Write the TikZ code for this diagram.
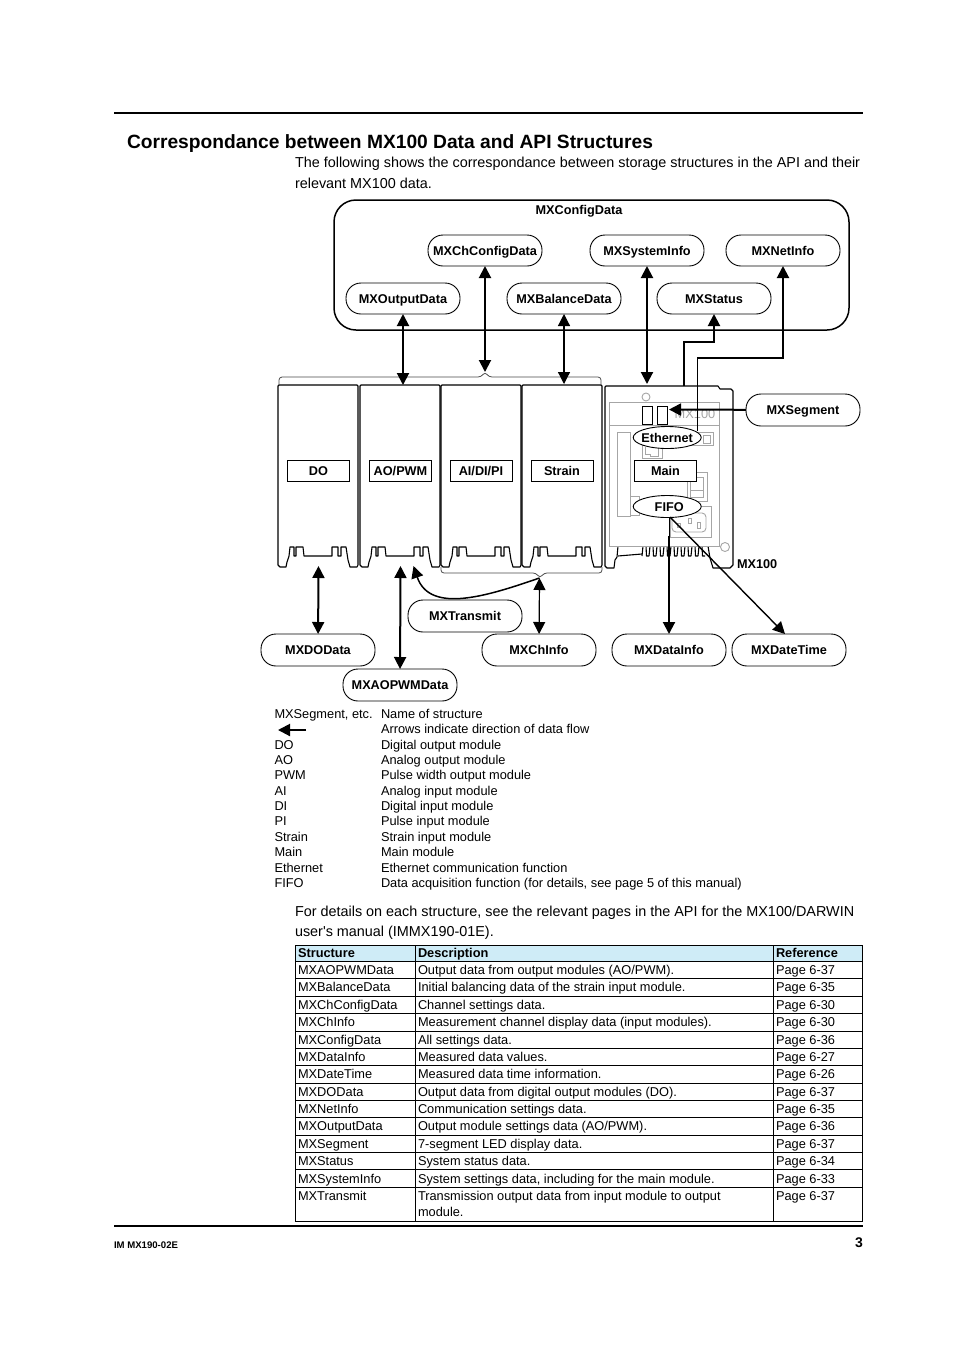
\documentclass[tikz,border=0pt]{standalone}
\usepackage{fontspec}
\setmainfont{Liberation Sans}
\newfontfamily\rawfont{Liberation Sans}
\usetikzlibrary{arrows.meta,shapes.geometric}
\definecolor{headblue}{HTML}{CFECF7}
\tikzset{
    every node/.style={inner sep=0pt, outer sep=0pt},
    pill/.style={draw, fill=white, line width=0.9pt, rounded corners=15pt, minimum width=114pt, minimum height=31pt, text height=9.2pt, text depth=0pt, font=\fontsize{12.7}{14}\selectfont\bfseries},
    modlabel/.style={draw, fill=white, line width=0.9pt, minimum width=62pt, minimum height=21pt, text height=9.2pt, text depth=0pt, font=\fontsize{12.7}{14}\selectfont\bfseries},
    oval/.style={draw, fill=white, line width=0.9pt, ellipse, inner xsep=-8pt, inner ysep=-1pt, minimum width=68pt, minimum height=22pt, text height=9.2pt, text depth=0pt, font=\fontsize{12.7}{14}\selectfont\bfseries},
    plain/.style={anchor=base west, font=\fontsize{14.4}{16}\selectfont},
    legend/.style={anchor=base west, font=\fontsize{12.8}{14}\selectfont},
    cell/.style={anchor=base west, font=\fontsize{12.8}{14}\selectfont},
    boldcell/.style={anchor=base west, font=\fontsize{12.8}{14}\selectfont\bfseries},
    flow/.style={line width=2pt, -{Triangle[length=12pt,width=12pt]}},
    both/.style={line width=2pt, {Triangle[length=12pt,width=12pt]}-{Triangle[length=12pt,width=12pt]}},
    thinboth/.style={line width=1.2pt, {Triangle[length=12pt,width=12pt]}-{Triangle[length=12pt,width=12pt]}},
    faint/.style={draw=black!35, line width=0.9pt},
    brace/.style={draw=black!70, line width=0.8pt, rounded corners=3pt}
}
\begin{document}
\begin{tikzpicture}[x=1pt, y=-1pt]
% Set manual bounding box
\useasboundingbox (0,0) rectangle (954,1350);
\fill[white] (0,0) rectangle (954,1350);

% Page rules and heading
\draw[line width=2pt] (114,113) -- (863,113);
\draw[line width=2pt] (114,1226) -- (863,1226);
\node[anchor=base west, font=\fontsize{19.2}{22}\selectfont\bfseries] (title) at (127,148) {Correspondance between MX100 Data and API Structures};
\node[plain] (introa) at (295,167) {The following shows the correspondance between storage structures in the API and their};
\node[plain] (introb) at (295,188) {relevant MX100 data.};
\node[plain] (morea) at (295,916) {For details on each structure, see the relevant pages in the API for the MX100/DARWIN};
\node[plain] (moreb) at (295,936) {user{\rawfont'}s manual (IMMX190-01E).};
\node[anchor=base west, font=\fontsize{9.6}{10}\selectfont\bfseries] (docno) at (114,1248) {IM MX190-02E};
\node[anchor=base east, font=\fontsize{14}{15}\selectfont\bfseries] (pageno) at (863,1247) {3};

% Config group
\draw[line width=1.5pt, rounded corners=22pt] (334,200) rectangle (849,330);
\node[anchor=base, font=\fontsize{12.7}{14}\selectfont\bfseries] (configdata) at (579,214) {MXConfigData};
\node[pill] (chconfig) at (485,250.5) {MXChConfigData};
\node[pill] (sysinfo) at (647,250.5) {MXSystemInfo};
\node[pill] (netinfo) at (783,250.5) {MXNetInfo};
\node[pill] (output) at (403,298.5) {MXOutputData};
\node[pill] (balance) at (564,298.5) {MXBalanceData};
\node[pill] (status) at (714,298.5) {MXStatus};

% Input and output modules
\foreach \mx in {278,360,441,522} {
    \draw[line width=1.1pt, line join=round, shift={(\mx,0)}] (0,386) -- (1,385) -- (79,385) -- (80,386) -- (80,565) -- (79,567) -- (72,567) -- (70,560) -- (68,547) -- (63,547) -- (63,556) -- (60,556) -- (60,547) -- (54,547) -- (54,556) -- (26,556) -- (25,547) -- (18,547) -- (18,556) -- (16,556) -- (16,547) -- (12,547) -- (11,556) -- (9,562) -- (8,567) -- (2,567) -- (0,565) -- cycle;
}
\node[modlabel] (domod) at (318.5,470.5) {DO};
\node[modlabel] (aomod) at (400.5,470.5) {AO/PWM};
\node[modlabel] (aimod) at (481,470.5) {AI/DI/PI};
\node[modlabel] (strainmod) at (562,470.5) {Strain};

% Braces
\draw[brace] (279,385) -- (279,377) -- (481,377) -- (485,372) -- (489,377) -- (601,377) -- (601,385);
\draw[brace] (441,567) -- (441,573) -- (536,573) -- (540,578) -- (544,573) -- (602,573) -- (602,567);

% MX100 main module
\draw[line width=1.1pt, line join=round] (618,546) -- (617,557) -- (615,560) -- (614,568) -- (607,568) -- (605,566) -- (605,387) -- (606,386) -- (718,386) -- (720,389) -- (731,389) -- (733,391) -- (733,565) -- (730,568) -- (713,568) -- (710,558) -- (708,546);
\draw[line width=1.1pt] (618,556) -- (642,554);
\foreach \fx in {642,649,...,701} {
    \draw[line width=1.1pt, line join=round] (\fx,556) -- (\fx+1,546) -- (\fx+4,546) -- (\fx+4.5,556) -- (\fx+7,556);
}
\draw[faint, fill=white] (609.5,402) rectangle (719,546);
\draw[faint] (609.5,425) -- (719,425);
\draw[faint] (646,397) circle (4);
\draw[faint, fill=white] (725,547) circle (4.5);
\node[anchor=base, text=black!35, font=\fontsize{12.8}{14}\selectfont] (mxfaint) at (695,418) {MX100};
\draw[faint] (617.7,432) rectangle (630.7,516);
\draw[faint] (630.7,496) rectangle (639,515);
\draw[faint] (642,445) rectangle (662,458);
\draw[faint] (645,447) -- (645,454) -- (650,454) -- (650,456) -- (658,456) -- (658,447);
\draw[faint] (690,432) rectangle (713,445);
\draw[faint] (703,435) rectangle (710,443);
\draw[faint] (687,472) rectangle (707,501);
\draw[faint] (690,477) rectangle (703,497);
\draw[faint] (690,490) -- (703,490);
\draw[faint] (670,506) rectangle (711,537);
\draw[faint, rounded corners=4pt] (672,513) -- (706,513) -- (706,532) -- (672,532) -- cycle;
\draw[faint] (688,518) rectangle (691,523);
\draw[faint] (697,522) rectangle (700,528);
\draw[faint] (677,523) rectangle (680,527);
\draw[line width=1pt, fill=white] (642.5,406) rectangle (652,424);
\draw[line width=1pt, fill=white] (657,406) rectangle (667,424);
\node[anchor=base west, font=\fontsize{12.7}{14}\selectfont\bfseries] (mxname) at (737,568) {MX100};

% Free ends of the connectors
\coordinate (outtop) at (403,385);
\coordinate (bracetop) at (485,372);
\coordinate (baltop) at (564,384);
\coordinate (maintop) at (647,384);
\coordinate (seg) at (669,409.5);
\coordinate (ethup) at (684,386);
\coordinate (ethin) at (697,431);
\coordinate (dofoot) at (318.5,566);
\coordinate (aofoot) at (400.5,566);
\coordinate (txfoot) at (413.5,566);
\coordinate (bracefoot) at (539.5,578);
\coordinate (fifodrop) at (669,536);
\coordinate (fifoout) at (670,517);
\coordinate (timein) at (785,634);

% Labels that sit over the module
\node[oval] (ethernet) at (667.2,437.5) {Ethernet};
\node[modlabel] (mainmod) at (665.5,470.5) {Main};
\node[oval] (fifo) at (667.2,506.5) {\kern4pt FIFO};
\node[pill, minimum height=32pt] (segment) at (803,410) {MXSegment};
\node[pill, minimum height=32pt] (transmit) at (465,616) {MXTransmit};
\node[pill, minimum height=32pt] (dodata) at (318,650) {MXDOData};
\node[pill, minimum height=32pt] (chinfo) at (539,650) {MXChInfo};
\node[pill, minimum height=32pt] (datainfo) at (669,650) {MXDataInfo};
\node[pill, minimum height=32pt] (datetime) at (789,650) {MXDateTime};
\node[pill, minimum height=32pt] (aopwm) at (400,685) {MXAOPWMData};

% Connections
\draw[both] (output) -- (outtop);
\draw[both] (chconfig) -- (bracetop);
\draw[thinboth] (balance) -- (baltop);
\draw[both] (sysinfo) -- (maintop);
\draw[flow] (ethup) |- (714,342) -- (status);
\draw[line width=1pt] (ethin) -- (697,358);
\draw[flow] (697,358) -| (netinfo);
\draw[flow] (segment) -- (seg);
\draw[both] (dofoot) -- (dodata);
\draw[both] (aofoot) -- (aopwm);
\draw[thinboth] (bracefoot) -- (chinfo);
\draw[line width=1.5pt, -{Triangle[length=12pt,width=12pt]}] (bracefoot) .. controls (490,595) and (430,615) .. (txfoot);
\draw[line width=0.9pt] (fifo.south -| datainfo) -- (fifodrop);
\draw[flow] (fifodrop) -- (datainfo);
\draw[line width=1.4pt, -{Triangle[length=12pt,width=12pt]}] (fifoout) -- (timein);

% Legend
\foreach \ly/\lkey/\ltext in {718/{MXSegment, etc.}/Name of structure, 733//Arrows indicate direction of data flow, 749/DO/Digital output module, 764/AO/Analog output module, 779/PWM/Pulse width output module, 795/AI/Analog input module, 810/DI/Digital input module, 825/PI/Pulse input module, 841/Strain/Strain input module, 856/Main/Main module, 872/Ethernet/Ethernet communication function, 887/FIFO/{Data acquisition function (for details, see page 5 of this manual)}} {
    \node[legend] (key\ly) at (274.5,\ly) {\lkey};
    \node[legend] (txt\ly) at (381,\ly) {\ltext};
}
\coordinate (legfrom) at (306,730);
\coordinate (legto) at (278,730);
\draw[flow] (legfrom) -- (legto);

% Table
\fill[headblue] (295.5,945) rectangle (862,961);
\foreach \ty in {961,978.5,996,1013,1031,1048,1065,1083,1100,1117,1135,1152,1169,1187} {
    \draw[line width=0.8pt] (295.5,\ty) -- (862,\ty);
}
\draw[line width=1pt] (295.5,945) rectangle (862,1221);
\draw[line width=0.8pt] (415.5,945) -- (415.5,1221);
\draw[line width=0.8pt] (773.5,945) -- (773.5,1221);
\node[boldcell] (hstruct) at (298,957) {Structure};
\node[boldcell] (hdesc) at (418,957) {Description};
\node[boldcell] (href) at (776,957) {Reference};
\foreach \ty/\sname/\sdesc/\spage in {
    974/MXAOPWMData/{Output data from output modules (AO/PWM).}/6-37,
    991/MXBalanceData/{Initial balancing data of the strain input module.}/6-35,
    1009/MXChConfigData/{Channel settings data.}/6-30,
    1026/MXChInfo/{Measurement channel display data (input modules).}/6-30,
    1044/MXConfigData/{All settings data.}/6-36,
    1061/MXDataInfo/{Measured data values.}/6-27,
    1078/MXDateTime/{Measured data time information.}/6-26,
    1096/MXDOData/{Output data from digital output modules (DO).}/6-37,
    1113/MXNetInfo/{Communication settings data.}/6-35,
    1130/MXOutputData/{Output module settings data (AO/PWM).}/6-36,
    1148/MXSegment/{7-segment LED display data.}/6-37,
    1165/MXStatus/{System status data.}/6-34,
    1183/MXSystemInfo/{System settings data, including for the main module.}/6-33,
    1200/MXTransmit/{Transmission output data from input module to output}/6-37} {
    \node[cell] (s\ty) at (298,\ty) {\sname};
    \node[cell] (d\ty) at (418,\ty) {\sdesc};
    \node[cell] (p\ty) at (776,\ty) {Page \spage};
}
\node[cell] (dlast) at (418,1216) {module.};

\end{tikzpicture}
\end{document}
